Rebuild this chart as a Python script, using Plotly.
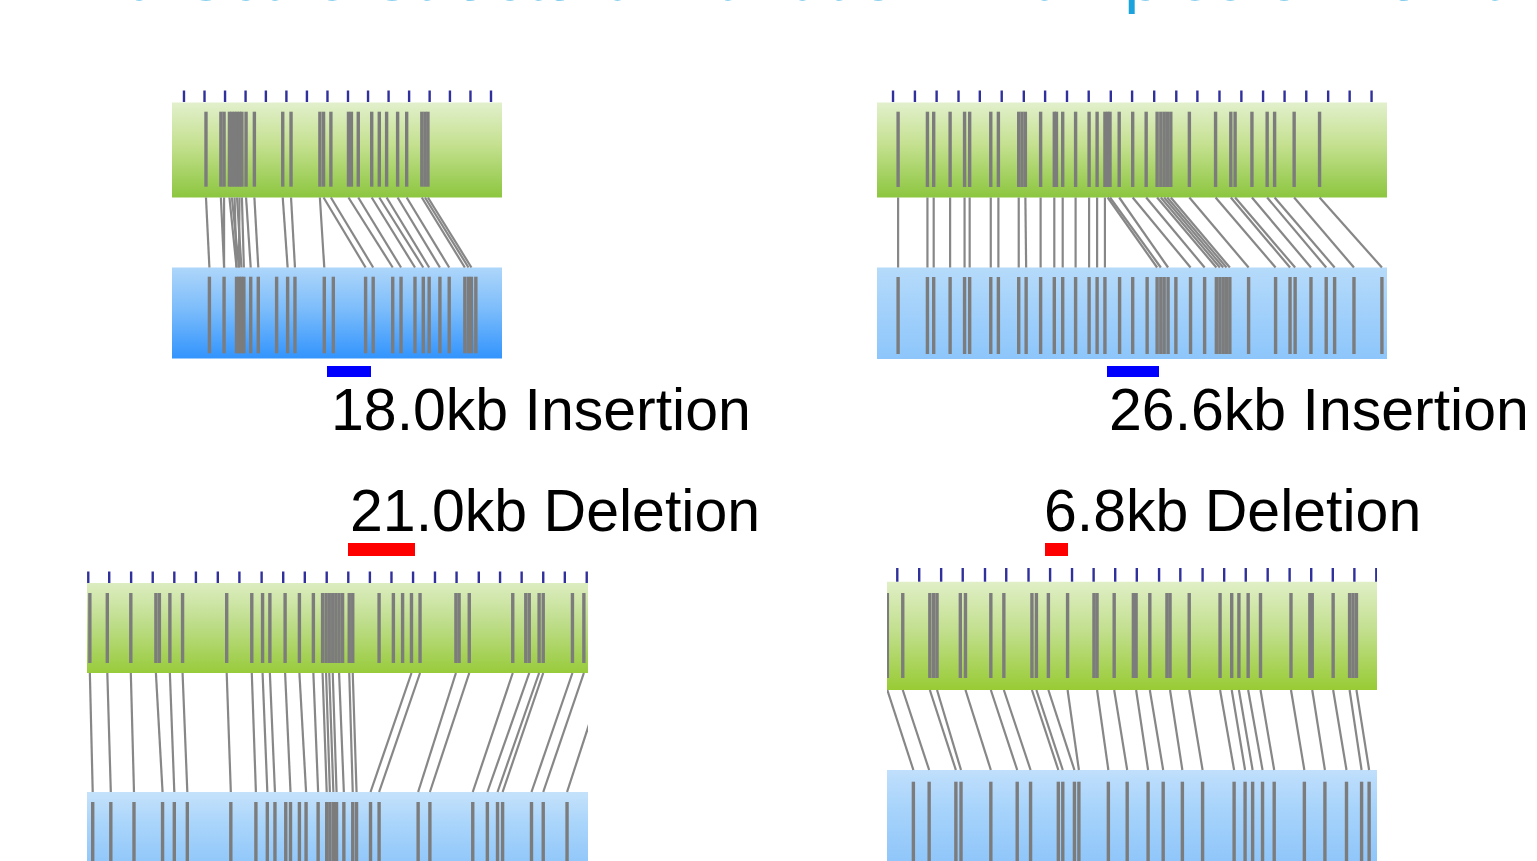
import plotly.graph_objects as go

# ---------------------------------------------------------------------------
# Label-site positions (kb) on the reference contig (green track) and on the
# assembled map (blue track) for four examples, plus the aligned site pairs.
# ---------------------------------------------------------------------------

# Example 1: 18.0 kb insertion
p1_ticks = [4.9, 13.3, 21.7, 30.1, 38.4, 46.8, 55.2, 63.6, 72.0, 80.2, 88.6, 97.0,
            105.4, 113.7, 122.1, 130.5]
p1_ref = [13.9, 20.0, 21.3, 23.5, 24.5, 25.6, 26.6, 27.6, 28.6, 30.3, 33.7, 45.3,
          48.7, 60.5, 62.0, 65.0, 72.2, 73.4, 76.2, 81.7, 84.8, 87.8, 92.3, 96.0,
          102.2, 103.5, 104.7]
p1_map = [15.3, 21.3, 26.4, 27.4, 28.4, 29.4, 32.2, 35.3, 42.8, 47.3, 50.3, 62.3,
          66.0, 79.2, 82.3, 90.3, 93.7, 99.4, 102.8, 105.2, 109.6, 113.4, 119.8,
          121.3, 122.5, 124.3]
p1_link_ref = [13.9, 20.0, 21.3, 23.5, 24.5, 25.6, 26.6, 27.6, 28.6, 30.3, 33.7, 45.3,
               48.7, 60.5, 62.0, 65.0, 72.2, 76.2, 81.7, 84.8, 87.8, 92.3, 96.0,
               102.2, 103.5, 104.7]
p1_link_map = [15.3, 21.3, 21.3, 26.4, 27.4, 26.4, 28.4, 27.4, 29.4, 32.2, 35.3, 47.3,
               50.3, 62.3, 79.2, 82.3, 90.3, 93.7, 99.4, 102.8, 105.2, 109.6, 113.4,
               119.8, 121.3, 122.5]

# Example 2: 26.6 kb insertion
p2_ticks = [8.2, 19.4, 30.5, 41.7, 52.6, 63.8, 75.1, 86.0, 97.2, 108.3, 119.6, 130.5,
            141.8, 153.1, 163.9, 175.2, 186.4, 197.5, 208.5, 219.6, 230.8, 241.8, 253.0]
p2_ref = [10.8, 25.8, 29.0, 37.4, 44.8, 47.4, 58.2, 62.1, 72.5, 74.2, 75.9, 83.7,
          90.7, 91.8, 95.0, 101.6, 108.5, 112.6, 116.6, 118.0, 119.2, 123.9, 130.8,
          137.7, 143.3, 145.2, 146.9, 148.5, 150.3, 159.8, 173.2, 181.0, 183.2,
          191.8, 199.6, 203.4, 213.4, 226.4]
p2_map = [10.8, 25.8, 29.0, 37.4, 44.8, 47.4, 58.2, 62.1, 72.5, 76.3, 83.7, 90.7,
          95.0, 101.6, 108.5, 112.6, 116.6, 124.1, 130.8, 138.2, 143.3, 145.2, 146.9,
          148.9, 152.9, 160.4, 167.6, 173.6, 175.4, 177.1, 178.8, 180.5, 190.1,
          203.9, 211.3, 213.9, 222.0, 229.8, 234.1, 244.0, 258.3]
p2_link_ref = [10.8, 25.8, 29.0, 37.4, 44.8, 47.4, 58.2, 62.1, 72.5, 75.9, 83.7, 90.7,
               95.0, 101.6, 108.5, 112.6, 116.6, 118.0, 119.2, 123.9, 130.8, 137.7,
               143.3, 145.2, 146.9, 148.5, 150.3, 159.8, 173.2, 181.0, 183.2, 191.8,
               199.6, 203.4, 213.4, 226.4]
p2_link_map = [10.8, 25.8, 29.0, 37.4, 44.8, 47.4, 58.2, 62.1, 72.5, 76.3, 83.7, 90.7,
               95.0, 101.6, 108.5, 112.6, 116.6, 143.3, 145.2, 148.9, 160.4, 167.6,
               173.6, 175.4, 177.1, 178.8, 180.5, 190.1, 203.9, 211.3, 213.9, 222.0,
               229.8, 234.1, 244.0, 258.3]

# Example 3: 21.0 kb deletion
p3_ticks = [0.4, 7.0, 13.9, 20.7, 27.5, 34.3, 41.2, 48.0, 55.0, 61.8, 68.6, 75.5,
            82.3, 89.1, 95.9, 102.7, 109.6, 116.4, 123.4, 130.1, 136.9, 143.7, 150.5,
            157.4]
p3_ref = [0.9, 6.4, 13.8, 21.7, 22.8, 26.1, 30.1, 44.0, 51.9, 55.3, 57.6, 62.4, 66.9,
          71.3, 74.2, 75.3, 76.3, 77.4, 78.4, 79.4, 80.5, 82.6, 83.7, 92.0, 96.5,
          99.4, 102.2, 104.9, 116.2, 117.2, 120.4, 134.1, 138.2, 139.3, 142.4, 143.7,
          152.9, 156.5, 163.4]
p3_map = [1.8, 7.5, 14.8, 23.8, 27.5, 31.6, 45.3, 53.2, 56.8, 59.2, 62.6, 64.1, 66.9,
          69.0, 72.8, 75.5, 76.5, 77.6, 78.6, 80.9, 83.7, 84.9, 89.3, 92.0, 104.3,
          108.0, 121.5, 126.1, 129.3, 130.9, 140.0, 143.7, 151.2]
p3_link_ref = [0.9, 6.4, 13.8, 21.7, 26.1, 30.1, 44.0, 51.9, 55.3, 57.6, 62.4, 66.9,
               71.3, 74.2, 75.3, 76.3, 77.4, 79.4, 82.6, 83.7, 102.2, 104.9, 116.2,
               120.4, 134.1, 139.3, 142.4, 143.7, 152.9, 156.5, 163.4]
p3_link_map = [1.8, 7.5, 14.8, 23.8, 27.5, 31.6, 45.3, 53.2, 56.8, 59.2, 64.1, 69.0,
               72.8, 75.5, 76.5, 77.6, 78.6, 80.9, 83.7, 84.9, 89.3, 92.0, 104.3,
               108.0, 121.5, 126.1, 129.3, 130.9, 140.0, 143.7, 151.2]

# Example 4: 6.8 kb deletion
p4_ticks = [3.0, 9.4, 15.8, 22.1, 28.6, 34.8, 41.3, 47.6, 54.0, 60.3, 66.6, 72.9,
            79.4, 85.6, 92.1, 98.4, 104.7, 111.1, 117.5, 123.8, 130.1, 136.4, 142.8]
p4_ref = [0.1, 4.6, 12.5, 13.6, 14.6, 21.4, 22.9, 30.3, 34.1, 42.3, 43.6, 47.1, 52.7,
          60.4, 61.3, 66.3, 71.9, 72.7, 76.7, 81.7, 82.6, 88.2, 97.2, 100.6, 102.7,
          105.4, 109.0, 117.9, 123.4, 124.1, 130.2, 135.0, 136.0, 137.0]
p4_map = [7.7, 12.3, 20.1, 21.6, 30.3, 38.0, 41.9, 50.0, 51.3, 54.7, 56.0, 64.6,
          70.1, 76.2, 80.6, 86.2, 92.1, 101.3, 104.5, 106.7, 109.6, 113.0, 121.8,
          127.8, 134.1, 138.5, 140.7]
p4_link_ref = [0.1, 4.6, 12.5, 14.6, 22.9, 30.3, 34.1, 42.3, 43.6, 47.1, 52.7, 61.3,
               66.3, 72.7, 76.7, 82.6, 88.2, 97.2, 100.6, 102.7, 105.4, 109.0, 117.9,
               124.1, 130.2, 135.0, 137.0]
p4_link_map = [7.7, 12.3, 20.1, 21.6, 30.3, 38.0, 41.9, 50.0, 51.3, 54.7, 56.0, 64.6,
               70.1, 76.2, 80.6, 86.2, 92.1, 101.3, 104.5, 106.7, 109.6, 113.0, 121.8,
               127.8, 134.1, 138.5, 140.7]

# Structural variant calls
sv_size_kb = [18.0, 26.6, 21.0, 6.8]
sv_start_kb = [63.4, 117.6, 82.3, 46.1]
sv_kind = ["Insertion", "Insertion", "Deletion", "Deletion"]

title_text = "Mid-Scale Structural Variation Examples of Human"

# ---------------------------------------------------------------------------
# Page layout (pixels, measured from the top-left of the page)
# ---------------------------------------------------------------------------
W, H = 1537, 861
FONT = "Liberation Sans, Arial, Helvetica, sans-serif"
SITE_GRAY = "#7c7c7c"
LINK_GRAY = "#878787"
TICK_BLUE = "#30309c"

panels = [
    dict(px=(172, 502), span=135.0, tick=(90.5, 102), ref=(102.5, 197.5),
         ref_site=(111.7, 186.7), map=(267.5, 358.5), map_site=(276.7, 353.3),
         bar=(365.5, 377.0), label_y=410, label_dx=2,
         ref_fill=["#e2f0cc", "#c4e08f", "#8cc63f"],
         map_fill=["#aed6fa", "#7dbdfb", "#3294fd"], bar_color="#0000ff"),
    dict(px=(877, 1387), span=260.9, tick=(90.5, 102), ref=(102.5, 197.5),
         ref_site=(111.7, 187.0), map=(267.5, 359.0), map_site=(277.0, 354.0),
         bar=(365.5, 377.0), label_y=410, label_dx=0,
         ref_fill=["#e2f0cc", "#c4e08f", "#8cc63f"],
         map_fill=["#b6dbfa", "#a3d1fb", "#8dc6fb"], bar_color="#0000ff"),
    dict(px=(87, 588), span=157.8, tick=(571.5, 583), ref=(583, 673),
         ref_site=(593, 663), map=(792, 861), map_site=(802, 861),
         bar=(543.3, 556.0), label_y=511, label_dx=0,
         ref_fill=["#dcedc0", "#bedd8a", "#98cb3b"],
         map_fill=["#c5e2fb", "#aad5fb", "#92c8fa"], bar_color="#ff0000"),
    dict(px=(887, 1377), span=143.0, tick=(568, 581.7), ref=(581.7, 690),
         ref_site=(593, 678), map=(770, 861), map_site=(781.7, 861),
         bar=(543.3, 556.0), label_y=511, label_dx=-3,
         ref_fill=["#e0efc6", "#c2df8e", "#98cb34"],
         map_fill=["#c0dffc", "#a6d3fb", "#90c6fa"], bar_color="#ff0000"),
]

examples = [
    (p1_ticks, p1_ref, p1_map, p1_link_ref, p1_link_map),
    (p2_ticks, p2_ref, p2_map, p2_link_ref, p2_link_map),
    (p3_ticks, p3_ref, p3_map, p3_link_ref, p3_link_map),
    (p4_ticks, p4_ref, p4_map, p4_link_ref, p4_link_map),
]


def vsegs(xs, y0, y1):
    """Vertical segments at each x, joined into one trace with gaps."""
    X, Y = [], []
    for x in xs:
        X += [x, x, None]
        Y += [y0, y1, None]
    return X, Y


def pairs(xa, xb, y0, y1):
    """Segments from (xa, y0) to (xb, y1) for every aligned pair."""
    X, Y = [], []
    for a, b in zip(xa, xb):
        X += [a, b, None]
        Y += [y0, y1, None]
    return X, Y


def scale3(cols):
    return [[0.0, cols[0]], [0.45, cols[1]], [1.0, cols[2]]]


fig = go.Figure()
layout_axes = {}

for i, (cfg, (ticks, ref, mp, lref, lmap)) in enumerate(zip(panels, examples)):
    n = "" if i == 0 else str(i + 1)
    xa, ya = "x" + n, "y" + n
    span = cfg["span"]
    common = dict(xaxis=xa, yaxis=ya, hoverinfo="skip", showlegend=False)

    # contig tracks with vertical colour gradient
    for key, cols in (("ref", cfg["ref_fill"]), ("map", cfg["map_fill"])):
        y0, y1 = cfg[key]
        fig.add_trace(go.Scatter(
            x=[0, span, span, 0, 0], y=[y0, y0, y1, y1, y0],
            mode="lines", line=dict(width=0), fill="toself",
            fillgradient=dict(type="vertical", colorscale=scale3(cols),
                              start=y0, stop=y1),
            **common))

    # label sites
    X, Y = vsegs(ref, *cfg["ref_site"])
    fig.add_trace(go.Scatter(x=X, y=Y, mode="lines",
                             line=dict(color=SITE_GRAY, width=3.4), **common))
    X, Y = vsegs(mp, *cfg["map_site"])
    fig.add_trace(go.Scatter(x=X, y=Y, mode="lines",
                             line=dict(color=SITE_GRAY, width=3.4), **common))

    # alignment links between reference and map sites
    X, Y = pairs(lref, lmap, cfg["ref"][1], cfg["map"][0])
    fig.add_trace(go.Scatter(x=X, y=Y, mode="lines",
                             line=dict(color=LINK_GRAY, width=2.2), **common))

    # ruler ticks
    X, Y = vsegs(ticks, *cfg["tick"])
    fig.add_trace(go.Scatter(x=X, y=Y, mode="lines",
                             line=dict(color=TICK_BLUE, width=2.4), **common))

    # structural variant extent
    b0, b1 = cfg["bar"]
    fig.add_trace(go.Bar(
        x=[sv_size_kb[i]], base=[sv_start_kb[i]], y=[(b0 + b1) / 2],
        width=[b1 - b0], orientation="h",
        marker=dict(color=cfg["bar_color"], line=dict(width=0)), **common))

    fig.add_annotation(
        x=sv_start_kb[i], y=cfg["label_y"], xref=xa, yref=ya,
        text=f"{sv_size_kb[i]:.1f}kb {sv_kind[i]}",
        xanchor="left", yanchor="middle", xshift=cfg["label_dx"], showarrow=False,
        font=dict(family=FONT, size=59, color="#000000"))

    layout_axes["xaxis" + n] = dict(domain=[cfg["px"][0] / W, cfg["px"][1] / W],
                                    range=[0, span], visible=False,
                                    fixedrange=True, anchor=ya)
    layout_axes["yaxis" + n] = dict(domain=[0, 1], range=[H, 0], visible=False,
                                    fixedrange=True, anchor=xa)

# slide heading, running off the top edge of the page
fig.add_annotation(
    x=804 / W, y=1 - 16.0 / H, xref="paper", yref="paper",
    text=title_text, xanchor="center", yanchor="bottom", showarrow=False,
    font=dict(family=FONT, size=67, color="#1aa3dc"))

fig.update_layout(
    width=W, height=H,
    margin=dict(l=0, r=0, t=0, b=0),
    paper_bgcolor="white", plot_bgcolor="rgba(0,0,0,0)",
    showlegend=False, bargap=0,
    **layout_axes,
)

fig.write_html("out.html")
